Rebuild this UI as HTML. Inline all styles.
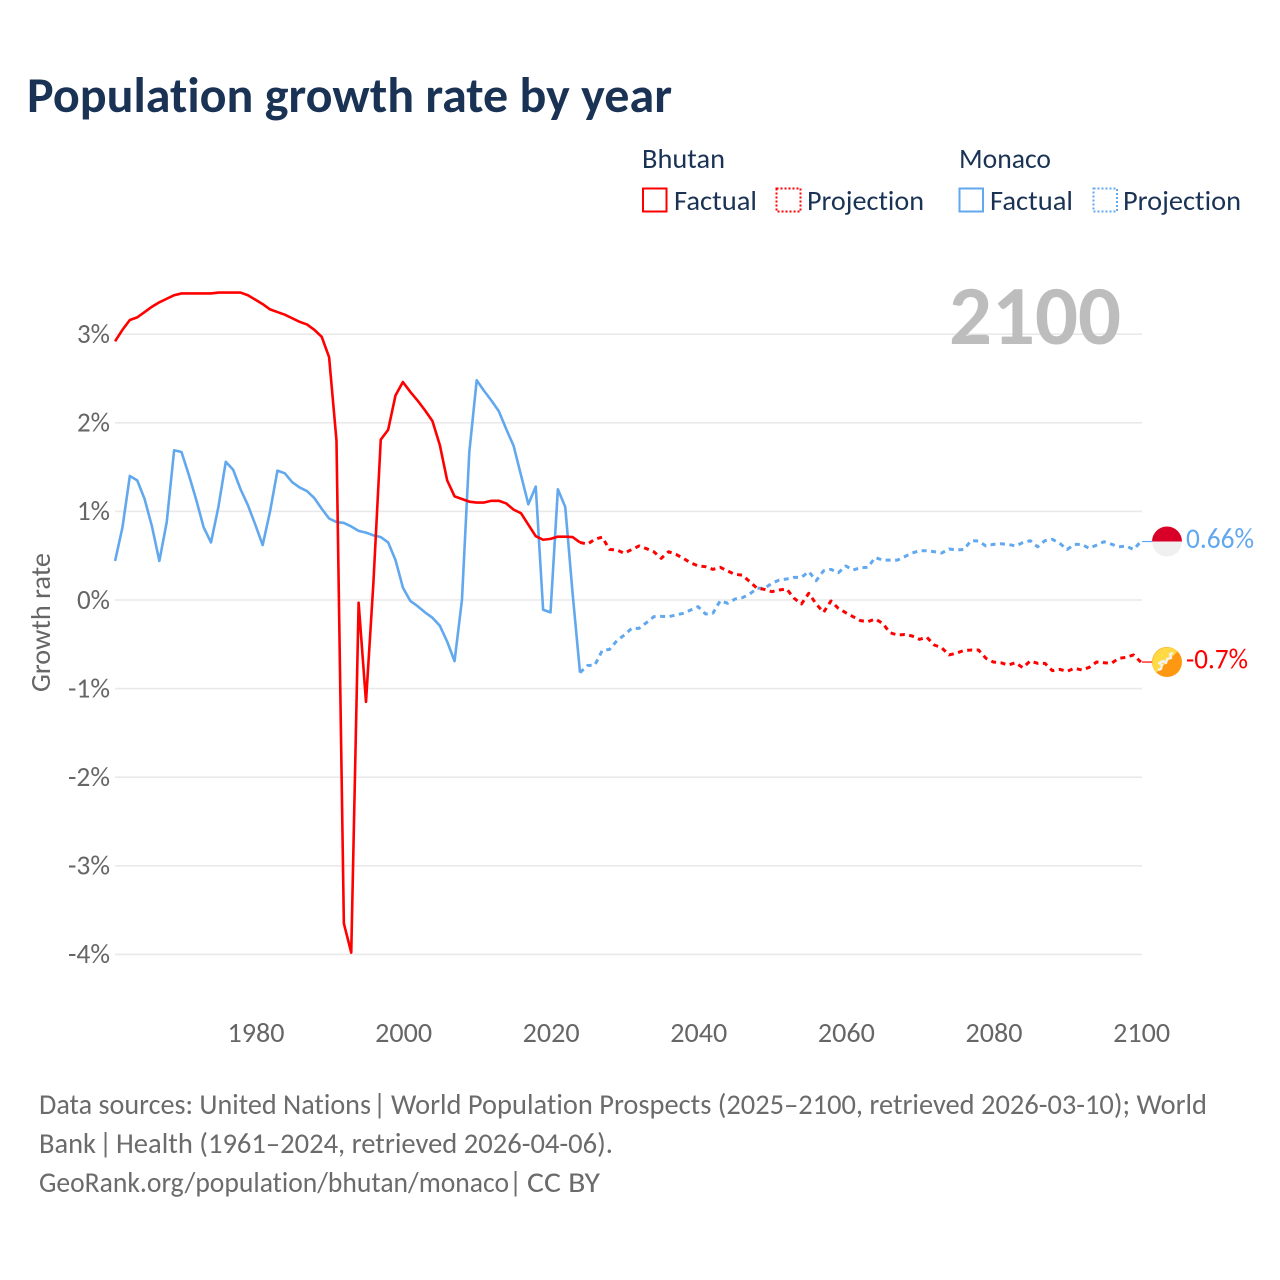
<!DOCTYPE html>
<html lang="en">
<head>
<meta charset="utf-8">
<title>Population growth rate by year</title>
<style>
html,body{margin:0;padding:0;background:#fff;}
#chart{display:block;width:1280px;height:1280px;font-family:"Carlito","Lato","Liberation Sans",sans-serif;font-variant-ligatures:none;font-feature-settings:"liga" 0,"clig" 0;}
</style>
</head>
<body>
<svg id="chart" xmlns="http://www.w3.org/2000/svg" width="1280" height="1280" viewBox="0 0 1280 1280">
  <rect x="0" y="0" width="1280" height="1280" fill="#ffffff"/>
  <text x="27" y="112" font-size="50" font-weight="700" fill="#1a3355" textLength="645" lengthAdjust="spacingAndGlyphs">Population growth rate by year</text>

  <g font-size="27.500" fill="#1a3355">
    <text x="642" y="168" textLength="83" lengthAdjust="spacingAndGlyphs">Bhutan</text>
    <rect x="643" y="188.500" width="23.500" height="23" fill="none" stroke="#ff0000" stroke-width="2"/>
    <text x="674" y="210" textLength="83" lengthAdjust="spacingAndGlyphs">Factual</text>
    <rect x="776.500" y="188.500" width="24" height="23" fill="none" stroke="#ff0000" stroke-width="2" stroke-dasharray="2 2"/>
    <text x="807" y="210" textLength="117" lengthAdjust="spacingAndGlyphs">Projection</text>
    <text x="959" y="168" textLength="92" lengthAdjust="spacingAndGlyphs">Monaco</text>
    <rect x="959.500" y="188.500" width="23.500" height="23" fill="none" stroke="#62a8ee" stroke-width="2"/>
    <text x="990" y="210" textLength="83" lengthAdjust="spacingAndGlyphs">Factual</text>
    <rect x="1093.500" y="188.500" width="23.500" height="23" fill="none" stroke="#62a8ee" stroke-width="2" stroke-dasharray="2 2"/>
    <text x="1123" y="210" textLength="118" lengthAdjust="spacingAndGlyphs">Projection</text>
  </g>

  <g id="grid"></g>
  <text x="949" y="344" font-size="84" font-weight="700" fill="#bdbdbd" textLength="172" lengthAdjust="spacingAndGlyphs">2100</text>
  <g id="yticks" font-size="27.500" fill="#666666"></g>
  <g id="xticks" font-size="27.500" fill="#666666"></g>
  <text transform="translate(50,692) rotate(-90)" font-size="27.500" fill="#666666" textLength="139" lengthAdjust="spacingAndGlyphs">Growth rate</text>
  <g id="series"></g>
  <g id="ends"></g>

  <g font-size="28.500" fill="#6b6b6b">
    <text x="39" y="1114" textLength="332" lengthAdjust="spacingAndGlyphs">Data sources: United Nations</text>
    <text x="373" y="1114">|</text>
    <text x="391" y="1114" textLength="816" lengthAdjust="spacingAndGlyphs">World Population Prospects (2025–2100, retrieved 2026-03-10); World</text>
    <text x="39" y="1153" textLength="57" lengthAdjust="spacingAndGlyphs">Bank</text>
    <text x="99" y="1153">|</text>
    <text x="116" y="1153" textLength="497" lengthAdjust="spacingAndGlyphs">Health (1961–2024, retrieved 2026-04-06).</text>
    <text x="39" y="1192" textLength="470" lengthAdjust="spacingAndGlyphs">GeoRank.org/population/bhutan/monaco</text>
    <text x="509" y="1192">|</text>
    <text x="527" y="1192" textLength="73" lengthAdjust="spacingAndGlyphs">CC BY</text>
  </g>
</svg>
<script>
const xTickYears = [1980, 2000, 2020, 2040, 2060, 2080, 2100];
const yTickValues = [3, 2, 1, 0, -1, -2, -3, -4];
const factualStartYear = 1961;
const projectionStartYear = 2024;

const bhutanFactual = [
  2.92,3.05,3.16,3.19,3.25,3.31,3.36,3.40,3.44,3.46,
  3.46,3.46,3.46,3.46,3.47,3.47,3.47,3.47,3.44,3.39,
  3.34,3.28,3.25,3.22,3.18,3.14,3.11,3.05,2.97,2.74,
  1.80,-3.65,-3.98,-0.03,-1.15,0.19,1.81,1.92,2.31,2.46,
  2.35,2.25,2.14,2.02,1.75,1.35,1.17,1.14,1.11,1.10,
  1.10,1.12,1.12,1.09,1.02,0.98,0.85,0.72,0.68,0.69,
  0.715,0.715,0.71,0.65
];
const monacoFactual = [
  0.44,0.82,1.40,1.35,1.14,0.83,0.44,0.88,1.69,1.67,
  1.41,1.13,0.82,0.65,1.05,1.56,1.47,1.25,1.07,0.85,
  0.62,1.00,1.46,1.43,1.33,1.27,1.23,1.15,1.03,0.92,
  0.88,0.87,0.83,0.78,0.76,0.73,0.71,0.65,0.45,0.14,
  -0.01,-0.07,-0.14,-0.20,-0.29,-0.47,-0.69,0.00,1.67,2.48,
  2.36,2.25,2.13,1.93,1.74,1.41,1.08,1.28,-0.11,-0.14,
  1.25,1.05,0.07,-0.82
];
const bhutanProjection = [
  0.65,
  0.63,0.685,0.71,0.57,0.565,0.527,0.57,0.61,0.58,0.545,
  0.47,0.545,0.515,0.47,0.42,0.385,0.376,0.346,0.369,0.327,
  0.29,0.28,0.207,0.132,0.12,0.094,0.113,0.124,0.02,-0.045,
  0.076,-0.045,-0.14,-0.011,-0.094,-0.143,-0.188,-0.233,-0.245,-0.214,
  -0.263,-0.369,-0.395,-0.39,-0.406,-0.444,-0.421,-0.508,-0.538,-0.62,
  -0.60,-0.57,-0.565,-0.565,-0.658,-0.70,-0.708,-0.734,-0.708,-0.764,
  -0.688,-0.715,-0.715,-0.798,-0.783,-0.805,-0.77,-0.79,-0.76,-0.70,
  -0.708,-0.715,-0.658,-0.647,-0.62,-0.70
];
const monacoProjection = [
  -0.82,
  -0.74,-0.735,-0.572,-0.557,-0.459,-0.395,-0.32,-0.32,-0.256,-0.188,
  -0.185,-0.188,-0.169,-0.15,-0.113,-0.075,-0.158,-0.15,-0.008,-0.037,
  0.011,0.026,0.068,0.132,0.132,0.188,0.226,0.237,0.256,0.256,
  0.32,0.218,0.33,0.346,0.308,0.384,0.339,0.365,0.369,0.48,
  0.45,0.45,0.45,0.49,0.53,0.556,0.556,0.545,0.53,0.576,
  0.564,0.57,0.67,0.665,0.61,0.628,0.635,0.628,0.61,0.647,
  0.67,0.60,0.67,0.685,0.64,0.57,0.628,0.628,0.583,0.62,
  0.658,0.63,0.60,0.61,0.57,0.66
];
const monacoEndLabel = "0.66%";
const bhutanEndLabel = "-0.7%";

const NS = "http://www.w3.org/2000/svg";
const RED = "#ff0000";
const BLUE = "#62a8ee";
function xScale(year) { return 255.3 + (year - 1980) * 7.38; }
function yScale(value) { return 600 - value * 88.6; }
function make(tag, parent, attrs) {
  const el = document.createElementNS(NS, tag);
  for (const k in attrs) el.setAttribute(k, attrs[k]);
  parent.appendChild(el);
  return el;
}
const grid = document.getElementById("grid");
const yticks = document.getElementById("yticks");
const xticks = document.getElementById("xticks");
const series = document.getElementById("series");
const ends = document.getElementById("ends");

yTickValues.forEach(function (v) {
  const line = make("line", grid, {x1: 115, x2: 1142, y1: yScale(v), y2: yScale(v), stroke: "#e9e9e9", "stroke-width": 1.6});
  
  
  const t = make("text", yticks, {x: 110, y: yScale(v) + 8.800, "text-anchor": "end", textLength: v < 0 ? 42 : 33, lengthAdjust: "spacingAndGlyphs"});
  t.textContent = v + "%";
  
  
});
xTickYears.forEach(function (y) {
  const t = make("text", xticks, {x: xScale(y) + 0.7, y: 1042, "text-anchor": "middle", textLength: 57, lengthAdjust: "spacingAndGlyphs"});
  t.textContent = String(y);
  
  
});
function pathFor(values, startYear) {
  return values.map(function (v, i) {
    return (i ? "L" : "M") + xScale(startYear + i).toFixed(2) + " " + yScale(v).toFixed(2);
  }).join(" ");
}
function drawLine(values, startYear, color, dashed) {
  const attrs = {d: pathFor(values, startYear), fill: "none", stroke: color, "stroke-width": dashed ? 3 : 2.6, "stroke-linejoin": "round"};
  if (dashed) attrs["stroke-dasharray"] = "5 4.500";
  return make("path", series, attrs);
}
const lineA = drawLine(monacoFactual, factualStartYear, BLUE, false);


const lineB = drawLine(bhutanFactual, factualStartYear, RED, false);


const lineC = drawLine(monacoProjection, projectionStartYear, BLUE, true);


const lineD = drawLine(bhutanProjection, projectionStartYear, RED, true);



/* End connectors, flags and value labels */
const monY = yScale(monacoProjection[monacoProjection.length - 1]);
const bhuY = yScale(bhutanProjection[bhutanProjection.length - 1]);
const CX = 1167, R = 15;

const conA = make("line", ends, {x1: 1142, x2: 1152, y1: monY, y2: monY, stroke: BLUE, "stroke-width": 1.2});


const conB = make("line", ends, {x1: 1142, x2: 1152, y1: bhuY, y2: bhuY, stroke: RED, "stroke-width": 1.2});



const flagM = make("g", ends, {transform: "translate(" + CX + " " + monY + ")"});


const flagMBottom = make("path", flagM, {d: "M-" + R + " 0A" + R + " " + R + " 0 0 0 " + R + " 0Z", fill: "#f0f0f0"});


const flagMTop = make("path", flagM, {d: "M-" + R + " 0A" + R + " " + R + " 0 0 1 " + R + " 0Z", fill: "#d80027"});



const flagB = make("g", ends, {transform: "translate(" + CX + " " + bhuY + ")"});


const flagBBase = make("circle", flagB, {cx: 0, cy: 0, r: R, fill: "#ff9811"});


const flagBTop = make("path", flagB, {d: "M-10.600 10.600A15 15 0 0 1 10.600 -10.600Z", fill: "#ffda44"});


const flagBDragon = make("path", flagB, {d: "M-9 8L-6 7L-5 3L-8 1L-4 -1L-1 1L0 -3L4 -4L3 -8L6 -9", fill: "none", stroke: "#f2f2f2", "stroke-width": 2.4, "stroke-linejoin": "round"});



const labM = make("text", ends, {x: 1186, y: monY + 6.500, "font-size": 28.5, fill: BLUE, textLength: 68, lengthAdjust: "spacingAndGlyphs"});
labM.textContent = monacoEndLabel;


const labB = make("text", ends, {x: 1186, y: bhuY + 6.500, "font-size": 28.5, fill: RED, textLength: 62, lengthAdjust: "spacingAndGlyphs"});
labB.textContent = bhutanEndLabel;


</script>
</body>
</html>
